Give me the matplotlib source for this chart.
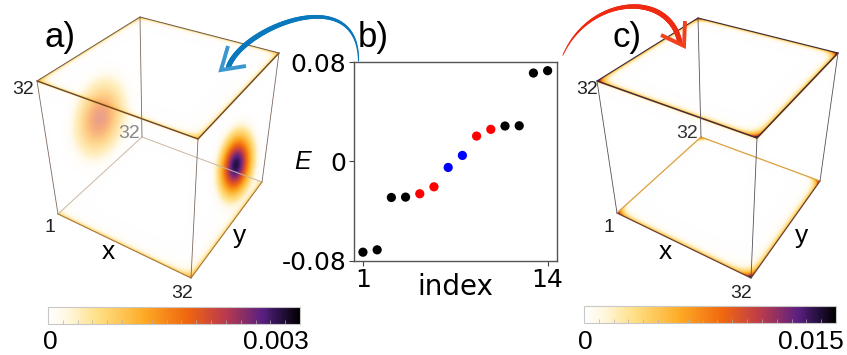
import matplotlib
matplotlib.use("Agg")
import matplotlib.pyplot as plt
import numpy as np
from matplotlib.cm import ScalarMappable
from matplotlib.collections import LineCollection
from matplotlib.colors import LinearSegmentedColormap, Normalize

# energy levels in panel b
index = np.arange(1, 15)
energy = [-0.0733, -0.0714, -0.0292, -0.0289, -0.0262, -0.0206, -0.0050,
          0.0047, 0.0203, 0.0257, 0.0284, 0.0286, 0.0711, 0.0730]
level_colors = ["black"] * 4 + ["red"] * 2 + ["blue"] * 2 + ["red"] * 2 + ["black"] * 4

scale_a = 0.0034
scale_c = 0.017
minor_a = np.arange(0.0002, 0.0034, 0.0002)
minor_c = np.arange(0.001, 0.017, 0.001)

W, H = 847, 355
SS = 3
cmap = LinearSegmentedColormap.from_list("dens", [
    (0.0, "#ffffff"), (0.08, "#fff6dc"), (0.2, "#ffdf85"), (0.38, "#fdab25"),
    (0.55, "#f0670f"), (0.7, "#bd3b4b"), (0.85, "#5a2081"), (0.93, "#25103f"),
    (1.0, "#000000")])

yy, xx = np.mgrid[0:H * SS, 0:W * SS]
xx = (xx + 0.5) / SS
yy = (yy + 0.5) / SS
raster = np.ones((H * SS, W * SS, 3))


def px_axes(x0, y0, x1, y1):
    return fig.add_axes([x0 / W, 1 - y1 / H, (x1 - x0) / W, (y1 - y0) / H])


def face_uv(corners):
    # perspective map from picture pixels back to the unit square of a face
    src = np.array(corners, float)
    dst = np.array([(0, 0), (1, 0), (1, 1), (0, 1)], float)
    A, b = [], []
    for (x, y), (u, v) in zip(src, dst):
        A.append([x, y, 1, 0, 0, 0, -u * x, -u * y])
        A.append([0, 0, 0, x, y, 1, -v * x, -v * y])
        b += [u, v]
    h = np.linalg.solve(np.array(A), np.array(b))
    w = h[6] * xx + h[7] * yy + 1
    return (h[0] * xx + h[1] * yy + h[2]) / w, (h[3] * xx + h[4] * yy + h[5]) / w


def blend(val, inside, opacity=1.0):
    alpha = (np.clip(val * 6, 0, 1) * inside * opacity)[..., None]
    col = cmap(np.clip(val, 0, 1))[..., :3]
    raster[:] = raster * (1 - alpha) + raster * col * alpha


def draw_face(corners, edges, glow, width, blobs=(), corner=0.0):
    u, v = face_uv(corners)
    inside = (u >= 0) & (u <= 1) & (v >= 0) & (v <= 1)
    d = [v, 1 - u, 1 - v, u]
    val = np.zeros_like(u)
    for di, e in zip(d, edges):
        val += e * glow * (np.exp(-np.abs(di) / width) + 0.6 * np.exp(-np.abs(di) / (0.25 * width)))
    if corner:
        for i in range(4):
            val += corner * np.exp(-(np.abs(d[i]) + np.abs(d[(i + 1) % 4])) / (0.8 * width))
    blend(val, inside)
    for cx, cy, sx, sy, tilt, amp, op in blobs:
        t = np.radians(tilt)
        a = (xx - cx) * np.cos(t) + (yy - cy) * np.sin(t)
        b = -(xx - cx) * np.sin(t) + (yy - cy) * np.cos(t)
        g = amp * np.exp(-0.5 * (a / sx) ** 2 - 0.5 * (b / sy) ** 2)
        g[g < 0.03] = 0
        blend(g, inside, op)


def draw_cube(ax, p, glow, width, blobs_left=(), blobs_right=(), styles=None, corner=0.0):
    lt, bt, rt, ft, lb, bb, rb, fb = p
    draw_face([lb, bb, rb, fb], [0.2, 0.2, 1, 1], glow[0], 1.6 * width, corner=corner)   # floor
    draw_face([lb, bb, bt, lt], [0.2, 0.1, 1, 0.15], glow[1], width, blobs_left)         # left back
    draw_face([bb, rb, rt, bt], [0.2, 0.1, 1, 0.1], glow[1], width)                      # right back
    draw_face([lb, fb, ft, lt], [0.8, 0.15, 1, 0.1], glow[1], width)                     # front left
    draw_face([fb, rb, rt, ft], [0.8, 0.1, 1, 0.15], glow[1], width, blobs_right)        # front right
    draw_face([lt, bt, rt, ft], [1, 1, 1, 1], glow[2], 1.3 * width, corner=corner)       # lid
    segs = [(lt, bt, "top"), (bt, rt, "top"), (rt, ft, "lid"), (ft, lt, "lid"),
            (lb, fb, "floor"), (fb, rb, "floor"), (rb, bb, "back"), (bb, lb, "back"),
            (lt, lb, "wire"), (rt, rb, "wire"), (ft, fb, "wire"), (bt, bb, "wire")]
    for a, b, s in segs:
        col, lw = styles[s]
        ax.plot([a[0], b[0]], [a[1], b[1]], color=col, lw=lw, solid_capstyle="round", zorder=3)


def curved_arrow(ax, pts, color, w0, w1, head):
    # tapered arc through control points, then the two strokes of the head
    pts = np.array(pts, float)
    s = np.linspace(0, 1, 120)
    t = np.linspace(0, 1, len(pts))
    coef = np.polyfit(t, pts, 3)
    x = np.polyval(coef[:, 0], s)
    y = np.polyval(coef[:, 1], s)
    segs = np.stack([np.c_[x[:-1], y[:-1]], np.c_[x[1:], y[1:]]], axis=1)
    lw = w0 + (w1 - w0) * np.sin(np.clip(s[:-1] * 1.9, 0, np.pi / 2))
    ax.add_collection(LineCollection(segs, colors=color, linewidths=lw, capstyle="round", zorder=4))
    tip, arm1, arm2, hcol = head
    ax.plot([arm1[0], tip[0], arm2[0]], [arm1[1], tip[1], arm2[1]], color=hcol, lw=2.8,
            solid_joinstyle="miter", solid_capstyle="butt", zorder=4)


def colorbar(x0, y0, x1, y1, vmax, minor):
    cax = px_axes(x0, y0, x1, y1)
    cb = fig.colorbar(ScalarMappable(Normalize(0, vmax), cmap), cax=cax, orientation="horizontal")
    cb.set_ticks(minor)
    cb.set_ticklabels([])
    cax.tick_params(axis="x", direction="in", length=3, width=0.5, color="#b0b0b0", which="both")
    cb.outline.set_edgecolor("#c8c8c8")
    cb.outline.set_linewidth(0.8)


fig = plt.figure(figsize=(W / 100, H / 100), dpi=100)
canvas = fig.add_axes([0, 0, 1, 1])
canvas.axis("off")

sans = "Liberation Sans"

# panel a
cube_a = [(37, 81), (140, 17), (279, 53), (198, 139), (58, 214), (142, 137), (262, 182), (191, 278)]
styles_a = {"top": ("#6e5a4a", 0.7), "lid": ("#6b4526", 1.0), "floor": ("#a8763a", 0.8),
            "back": ("#c8b8a8", 0.7), "wire": ("#7a6a60", 0.6)}
draw_cube(canvas, cube_a, (0.16, 0.1, 0.16), 0.028,
          blobs_left=[(100, 118, 15, 24, 14, 0.62, 0.55)],
          blobs_right=[(236, 165, 10, 20, 10, 0.93, 1.0)],
          styles=styles_a)

# panel c
cube_c = [(597, 81), (698, 18), (838, 53), (757, 138), (617, 213), (701, 137), (820, 181), (751, 278)]
styles_c = {"top": ("#3a2a3a", 0.8), "lid": ("#4a2a30", 1.1), "floor": ("#6b4030", 0.9),
            "back": ("#d8a040", 0.9), "wire": ("#55505a", 0.6)}
draw_cube(canvas, cube_c, (0.22, 0.14, 0.24), 0.025, styles=styles_c, corner=0.75)

canvas.imshow(raster, extent=(0, W, H, 0), aspect="auto", interpolation="antialiased", zorder=1)
canvas.set_xlim(0, W)
canvas.set_ylim(H, 0)

# arrows
curved_arrow(canvas, [(358, 60), (348, 30), (315, 15), (280, 22), (248, 47), (228, 66)],
             "#0a78bd", 0.8, 3.6, ((221, 70), (228, 46), (246, 66), "#3a98cf"))
curved_arrow(canvas, [(563, 55), (590, 22), (628, 5), (660, 15), (680, 42)],
             "#ee2a12", 0.6, 3.6, ((684, 46), (685, 21), (661, 35), "#f2401f"))

# labels
canvas.text(45, 37, "a)", fontsize=25, family=sans, ha="left", va="center", zorder=5)
canvas.text(358, 37, "b)", fontsize=25, family=sans, ha="left", va="center", zorder=5)
canvas.text(612, 37, "c)", fontsize=25, family=sans, ha="left", va="center", zorder=5)

for x, y, s, col in [(23, 90, "32", "#222222"), (129, 133, "32", "#888888"),
                     (50, 228, "1", "#222222"), (182, 294, "32", "#222222"),
                     (587, 90, "32", "#222222"), (687, 133, "32", "#333333"),
                     (609, 228, "1", "#222222"), (741, 294, "32", "#222222")]:
    canvas.text(x, y, s, fontsize=14, family=sans, color=col, ha="center", va="center", zorder=5)
for x, y, s in [(108, 252, "x"), (240, 236, "y"), (665, 252, "x"), (802, 236, "y")]:
    canvas.text(x, y, s, fontsize=19, family=sans, ha="center", va="center", zorder=5)

# colourbars
colorbar(48, 307, 300, 324, scale_a, minor_a)
colorbar(584, 306, 836, 323, scale_c, minor_c)
canvas.text(50, 342, "0", fontsize=19, family=sans, ha="center", va="center")
canvas.text(276, 342, "0.003", fontsize=19, family=sans, ha="center", va="center")
canvas.text(585, 342, "0", fontsize=19, family=sans, ha="center", va="center")
canvas.text(811, 342, "0.015", fontsize=19, family=sans, ha="center", va="center")

# panel b
ax = px_axes(354, 62, 557, 260.5)
ax.scatter(index, energy, c=level_colors, s=44, linewidths=0, zorder=3)
ax.set_xlim(0.37, 14.66)
ax.set_ylim(-0.08, 0.08)
ax.set_xticks([1, 14])
ax.set_yticks([-0.08, 0, 0.08])
ax.set_yticklabels(["-0.08", "0", "0.08"], fontsize=18)
ax.set_xticklabels(["1", "14"], fontsize=18)
ax.tick_params(length=3.5, width=0.8, pad=2, color="#444444")
for sp in ax.spines.values():
    sp.set_color("#555555")
    sp.set_linewidth(1.0)
ax.set_xlabel("index", fontsize=20, labelpad=-14)
canvas.text(303, 162, "E", fontsize=18, family=sans, style="italic", ha="center", va="center", zorder=5)

fig.savefig("out.png", dpi=100)
